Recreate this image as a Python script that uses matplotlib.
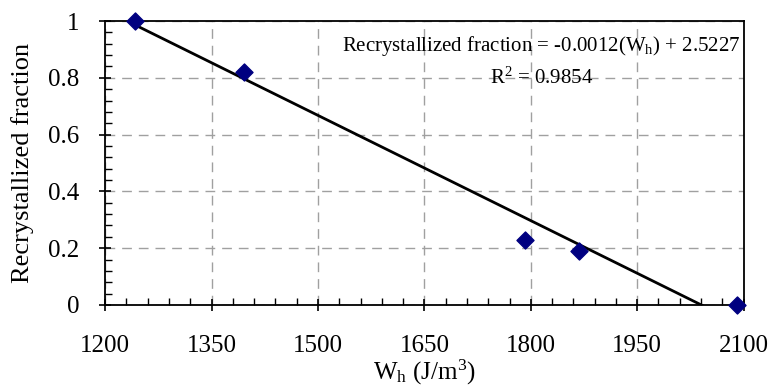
import numpy as np
import matplotlib
matplotlib.use("Agg")
import matplotlib.pyplot as plt
from matplotlib.ticker import MultipleLocator

plt.rcParams['font.family'] = ['Liberation Serif', 'DejaVu Serif']
plt.rcParams['mathtext.fontset'] = 'custom'
plt.rcParams['mathtext.rm'] = 'Liberation Serif'
plt.rcParams['mathtext.it'] = 'Liberation Serif'

wh = [1242, 1396, 1792, 1868, 2091]
frac = [1.0, 0.82, 0.23, 0.19, 0.0]
x_ticks = [1200, 1350, 1500, 1650, 1800, 1950, 2100]
y_ticks = [0, 0.2, 0.4, 0.6, 0.8, 1]
y_ticklabels = ['0', '0.2', '0.4', '0.6', '0.8', '1']

fig = plt.figure(figsize=(7.73, 3.89), dpi=100)
ax = fig.add_axes([0.136, 0.216, 0.826, 0.730])

ax.set_xlim(1200, 2100)
ax.set_ylim(0, 1)
ax.set_xticks(x_ticks)
ax.set_yticks(y_ticks)
ax.set_yticklabels(y_ticklabels)
ax.xaxis.set_minor_locator(MultipleLocator(30))
ax.yaxis.set_minor_locator(MultipleLocator(0.04))
ax.tick_params(which='major', direction='inout', length=9, width=1.2, labelsize=18)
ax.tick_params(which='minor', direction='in', length=5, width=1.0)
ax.tick_params(axis='x', which='major', pad=17)
ax.tick_params(axis='y', which='major', pad=14)

ax.grid(True, which='major', color='#a0a0a0', linestyle=(0, (7, 5)), linewidth=1.0)
ax.set_axisbelow(True)
for s in ax.spines.values():
    s.set_linewidth(1.3)
    s.set_color('black')

# trendline
coef = np.polyfit(wh, frac, 1)
xl = np.array([min(wh), max(wh)])
ax.plot(xl, np.polyval(coef, xl), color='black', linewidth=2.0, zorder=3)

ax.scatter(wh, frac, marker='D', s=75, color='#000080', zorder=4, clip_on=False)

ax.set_ylabel('Recrystallized fraction', fontsize=19, labelpad=10)
ax.set_xlabel(r'W$_{\mathrm{h}}$ (J/m$^3$)', fontsize=18, labelpad=1)

ax.text(0.683, 0.912, r'Recrystallized fraction = -0.0012(W$_{\mathrm{h}}$) + 2.5227',
        transform=ax.transAxes, ha='center', va='center', fontsize=15)
ax.text(0.683, 0.800, r'R$^2$ = 0.9854', transform=ax.transAxes,
        ha='center', va='center', fontsize=15)

fig.savefig('out.png', dpi=100)
